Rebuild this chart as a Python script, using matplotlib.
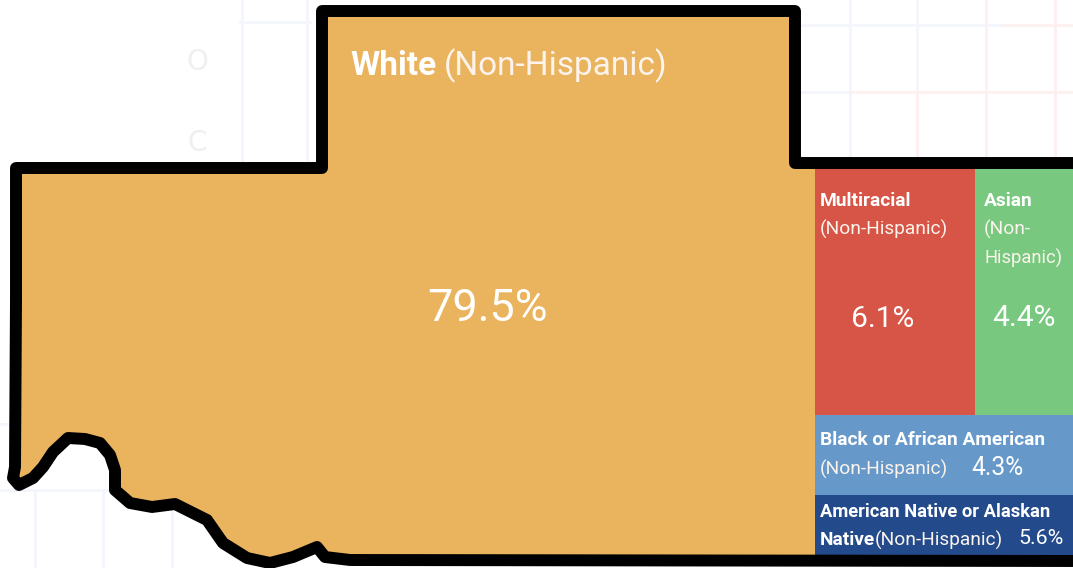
# -*- coding: utf-8 -*-
# Race / ethnicity treemap drawn inside a county outline
import matplotlib
matplotlib.use("Agg")
import matplotlib.pyplot as plt

# Data
groups = ["White", "Multiracial", "Asian", "Black or African American", "American Native or Alaskan Native"]
shares = ["79.5%", "6.1%", "4.4%", "4.3%", "5.6%"]
colors = ["#EAB35E", "#D75546", "#78C97F", "#6699C9", "#234A8B"]

# county outline, picture pixels
outline_x = [16, 16, 322, 322, 795, 795, 1079, 1079, 350, 325, 317, 293, 270, 247, 223, 207, 175,
             152, 130, 115, 115, 110, 100, 85, 68, 53, 43, 33, 19, 13, 15, 16]
outline_y = [300, 168, 168, 11, 11, 163, 163, 561, 560, 557, 547, 557, 563, 558, 543, 520, 504,
             507, 503, 490, 470, 455, 443, 439, 438, 452, 467, 478, 485, 478, 467, 300]

# tiles: x0, x1, y0, y1
tile_x0 = [815, 975, 815, 815]
tile_x1 = [975, 1073, 1073, 1073]
tile_y0 = [168, 168, 415, 495]
tile_y1 = [415, 415, 495, 556]

# faint map in the background
map_blue = [(800, 1005, 25, 25), (800, 850, 92, 92), (850, 850, 0, 160), (917, 917, 0, 90),
            (242, 242, 0, 160), (307, 307, 0, 160), (240, 310, 22, 22), (0, 250, 490, 490),
            (35, 35, 490, 568), (103, 103, 490, 568), (172, 172, 490, 568), (0, 30, 424, 424)]
map_pink = [(1005, 1073, 25, 25), (850, 1073, 92, 92), (986, 986, 0, 160), (917, 917, 92, 160),
            (1055, 1055, 0, 160)]

fig = plt.figure(figsize=(10.73, 5.68), dpi=100)
ax = fig.add_axes([0, 0, 1, 1])
ax.set_xlim(0, 1073)
ax.set_ylim(568, 0)
ax.axis("off")

for x0, x1, y0, y1 in map_blue:
    ax.plot([x0, x1], [y0, y1], color="#F3F6FC", lw=2.0, zorder=1)
for x0, x1, y0, y1 in map_pink:
    ax.plot([x0, x1], [y0, y1], color="#FDF1EF", lw=2.0, zorder=1)
ax.text(197, 62, "O", color="#EFEFEF", fontsize=20, ha="center", va="center", zorder=1)
ax.text(197, 143, "C", color="#EFEFEF", fontsize=20, ha="center", va="center", zorder=1)

# orange shape and tiles
ax.fill(outline_x, outline_y, color=colors[0], lw=0, zorder=2)
for i in range(4):
    ax.fill([tile_x0[i], tile_x1[i], tile_x1[i], tile_x0[i]],
            [tile_y0[i], tile_y0[i], tile_y1[i], tile_y1[i]],
            color=colors[i + 1], lw=0, zorder=3)
ax.plot(outline_x, outline_y, color="black", lw=8.6, solid_joinstyle="round",
        solid_capstyle="round", zorder=4)


def bold(x, y, s, size=13.8):
    ax.text(x, y + 2, s, color="white", family="Roboto", weight="bold", fontsize=size, va="center", zorder=5)


def light(x, y, s, size=13.8):
    ax.text(x, y + 2, s, color="#FBF3EC", family="Roboto", fontsize=size, va="center", zorder=5)


def pct(x, y, s, size):
    ax.text(x, y + 2, s, color="white", family="Roboto", fontsize=size, ha="center", va="center", zorder=5)


# labels
bold(350, 64, groups[0], 24)
light(444, 64, "(Non-Hispanic)", 24)
pct(488, 307, shares[0], 32.4)

bold(820, 199, groups[1])
light(820, 227, "(Non-Hispanic)")
pct(883, 317, shares[1], 21.5)

bold(984, 199, groups[2])
light(984, 227, "(Non-")
light(984, 256, "Hispanic)", 13.2)
pct(1024, 316, shares[2], 21.5)

bold(820, 438, groups[3])
light(820, 467, "(Non-Hispanic)")
pct(998, 466, shares[3], 17.7)

bold(820, 510, "American Native or Alaskan", 13.2)
bold(820, 538, "Native")
light(875, 538, "(Non-Hispanic)")
pct(1041, 536, shares[4], 15.4)

fig.savefig("out.png", dpi=100, facecolor="white")
